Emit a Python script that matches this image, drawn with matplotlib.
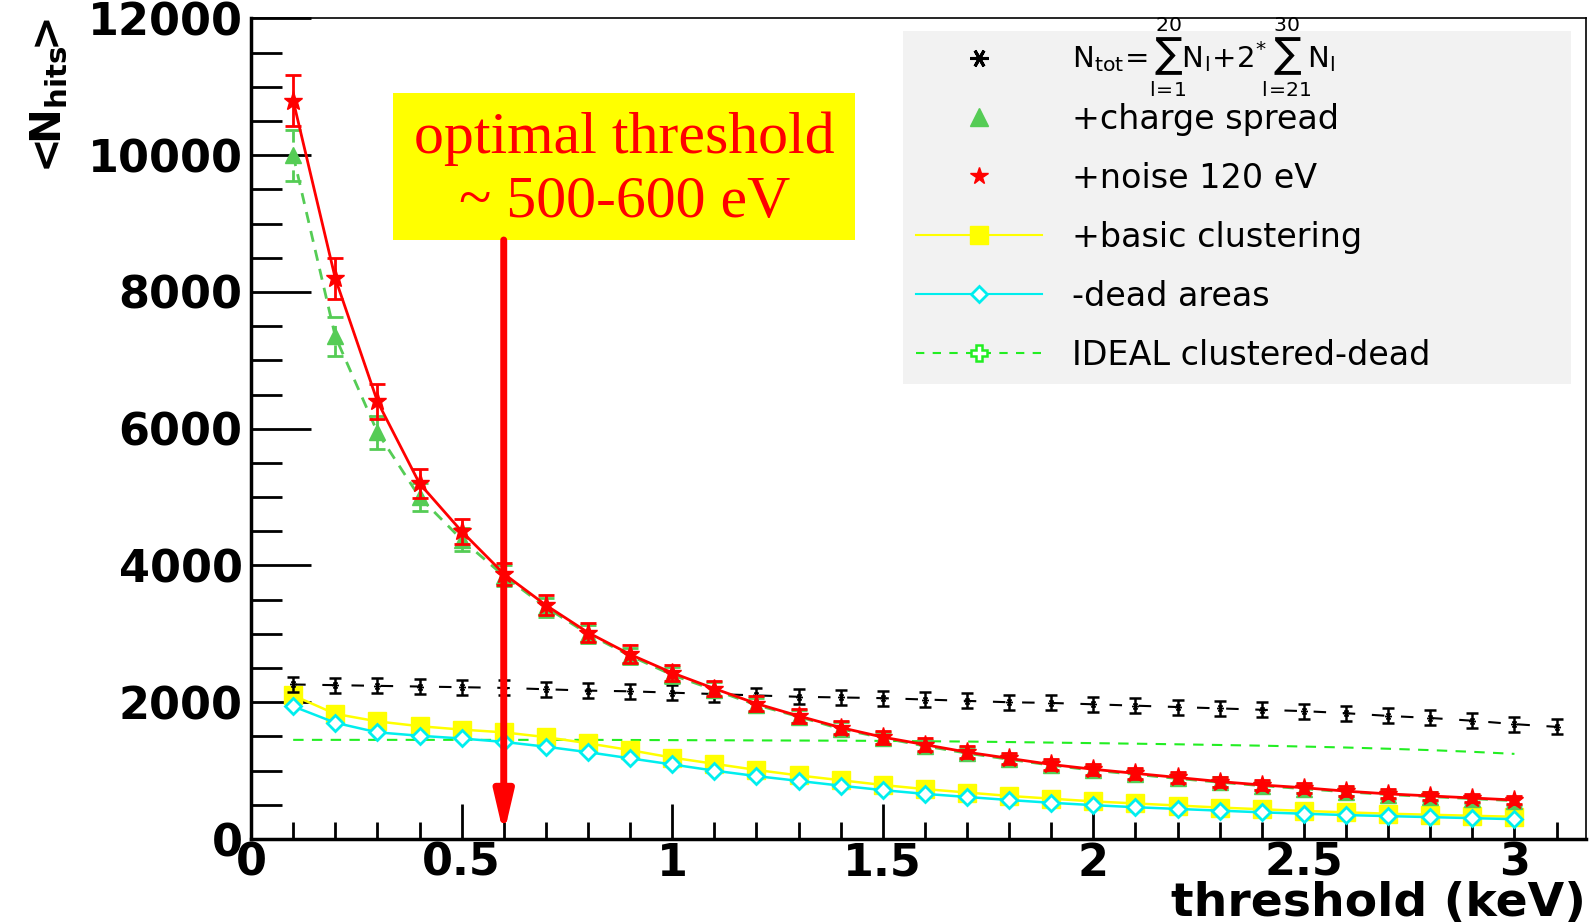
import matplotlib
matplotlib.use("Agg")
import matplotlib.pyplot as plt
from matplotlib.lines import Line2D
from matplotlib.patches import Rectangle

plt.rcParams['mathtext.fontset'] = 'dejavusans'

# threshold points (keV)
thr = [0.1, 0.2, 0.3, 0.4, 0.5, 0.6, 0.7, 0.8, 0.9, 1.0,
       1.1, 1.2, 1.3, 1.4, 1.5, 1.6, 1.7, 1.8, 1.9, 2.0,
       2.1, 2.2, 2.3, 2.4, 2.5, 2.6, 2.7, 2.8, 2.9, 3.0]
thr_tot = thr + [3.1]

# N_tot = sum N_l + 2*sum N_l
n_tot = [2260, 2250, 2240, 2230, 2220, 2210, 2190, 2170, 2160, 2140,
         2120, 2100, 2080, 2070, 2060, 2040, 2020, 2000, 1990, 1970,
         1950, 1930, 1910, 1890, 1870, 1840, 1800, 1770, 1730, 1680, 1640]
n_tot_err = [110] * 31

# +charge spread
charge = [10000, 7350, 5950, 5000, 4380, 3850, 3390, 3000, 2680, 2400,
          2180, 1960, 1790, 1610, 1480, 1360, 1255, 1165, 1080, 1005,
          945, 885, 830, 780, 735, 690, 650, 620, 590, 560]
charge_err = [370, 290, 240, 200, 170, 150, 140, 130, 120, 115,
              110, 105, 100, 95, 90, 88, 85, 82, 80, 78,
              76, 74, 72, 70, 68, 66, 64, 62, 60, 58]

# +noise 120 eV
noise = [10800, 8200, 6400, 5200, 4500, 3880, 3420, 3020, 2700, 2430,
         2200, 1980, 1800, 1630, 1490, 1380, 1270, 1180, 1090, 1020,
         960, 900, 840, 790, 750, 700, 660, 630, 600, 570]
noise_err = [380, 300, 260, 210, 180, 160, 150, 140, 130, 120,
             115, 110, 105, 100, 95, 92, 88, 85, 82, 80,
             78, 76, 74, 72, 70, 68, 66, 64, 62, 60]

# +basic clustering
clust = [2100, 1830, 1720, 1650, 1600, 1560, 1490, 1400, 1300, 1190,
         1100, 1010, 930, 860, 790, 730, 680, 630, 590, 550,
         520, 490, 460, 435, 410, 390, 370, 355, 340, 325]

# -dead areas
dead = [1940, 1700, 1560, 1510, 1470, 1420, 1350, 1270, 1180, 1090,
        1000, 920, 850, 780, 715, 660, 615, 570, 530, 495,
        465, 440, 415, 390, 370, 350, 335, 320, 305, 290]

# IDEAL clustered-dead
ideal = [1450, 1450, 1450, 1450, 1450, 1450, 1450, 1450, 1448, 1446,
         1444, 1442, 1440, 1438, 1435, 1430, 1425, 1418, 1410, 1402,
         1394, 1385, 1375, 1365, 1352, 1338, 1320, 1300, 1275, 1245]

fig = plt.figure(figsize=(15.94, 9.23), dpi=100)
ax = fig.add_axes([0.1575, 0.091, 0.8375, 0.889])

# ideal line
ax.plot(thr, ideal, color='#22ee22', ls=(0, (5, 4)), lw=1.5, zorder=2)

# yellow / cyan
ax.plot(thr, clust, color='#ffff00', marker='s', ms=13, lw=1.8, zorder=3)
ax.plot(thr, dead, color='#00eeee', marker='D', ms=8, mfc='white',
        mec='#00eeee', mew=2, lw=1.8, zorder=4)

# black dashed with error bars
ax.errorbar(thr_tot, n_tot, yerr=n_tot_err, color='black', ls=(0, (6, 8)),
            lw=1.5, marker=(6, 2, 90), ms=5, capsize=4, elinewidth=1.8,
            capthick=1.8, zorder=5)

# charge spread (green, dashed)
eb = ax.errorbar(thr, charge, yerr=charge_err, color='#55cc55', ls=(0, (4, 3)),
                 lw=2, marker='^', ms=12, capsize=6, elinewidth=2,
                 capthick=2, zorder=6)
eb[2][0].set_linestyle((0, (4, 3)))

# noise (red)
ax.errorbar(thr, noise, yerr=noise_err, color='red', ls='-', lw=2,
            marker='*', ms=14, capsize=6, elinewidth=2, capthick=2, zorder=7)

ax.set_xlim(0, 3.17)
ax.set_ylim(0, 12000)
ax.set_xticks([0, 0.5, 1, 1.5, 2, 2.5, 3])
ax.set_xticklabels(['0', '0.5', '1', '1.5', '2', '2.5', '3'])
ax.set_xticks([i / 10 for i in range(32)], minor=True)
ax.set_yticks([0, 2000, 4000, 6000, 8000, 10000, 12000])
ax.set_yticks(list(range(0, 12001, 500)), minor=True)
ax.tick_params(axis='both', which='both', direction='in', width=2)
ax.tick_params(axis='y', which='major', length=43, pad=6)
ax.tick_params(axis='y', which='minor', length=22)
ax.tick_params(axis='x', which='major', length=25, pad=2)
ax.tick_params(axis='x', which='minor', length=12)
for lab in ax.get_xticklabels() + ax.get_yticklabels():
    lab.set_fontsize(32)
    lab.set_fontweight('bold')
ax.spines['left'].set_linewidth(2.5)
ax.spines['bottom'].set_linewidth(2.5)
ax.spines['top'].set_linewidth(1.2)
ax.spines['right'].set_linewidth(1.2)

fig.text(0.995, 0.008, 'threshold (keV)', fontsize=34, fontweight='bold',
         ha='right', va='baseline')
ax.text(-0.151, 1.0, r'$\mathbf{<\!\!N_{hits}\!\!>}$',
        transform=ax.transAxes, rotation=90, ha='center', va='top',
        fontsize=30)

# annotation box and arrow
box_x0, box_x1 = 0.338, 1.435
box_y0, box_y1 = 8760, 10910
ax.add_patch(Rectangle((box_x0, box_y0), box_x1 - box_x0, box_y1 - box_y0,
                       facecolor='#ffff00', edgecolor='none', zorder=8))
ax.text((box_x0 + box_x1) / 2, (box_y0 + box_y1) / 2 - 60,
        'optimal threshold\n~ 500-600 eV', color='red', fontsize=43,
        family='Liberation Serif', ha='center', va='center',
        linespacing=1.25, zorder=9)
ax.annotate('', xy=(0.6, 60), xytext=(0.6, box_y0),
            arrowprops=dict(arrowstyle='-|>,head_length=1.2,head_width=0.28',
                            color='red', lw=5, mutation_scale=20,
                            shrinkA=0, shrinkB=0),
            zorder=10)

# legend
ax.add_patch(Rectangle((0.488, 0.555), 0.501, 0.43, transform=ax.transAxes,
                       facecolor='#f2f2f2', edgecolor='none', zorder=1))
handles = [
    Line2D([], [], color='black', ls='none', marker=(6, 2, 90), ms=13, mew=2.2),
    Line2D([], [], color='#55cc55', ls='none', marker='^', ms=13),
    Line2D([], [], color='red', ls='none', marker='*', ms=13),
    Line2D([], [], color='#ffff00', ls='-', lw=1.5, marker='s', ms=13),
    Line2D([], [], color='#00eeee', ls='-', lw=1.5, marker='D', ms=8,
           mfc='white', mew=2),
    Line2D([], [], color='#22ee22', ls=(0, (4, 4)), lw=1.5, marker='P', ms=12,
           mfc='white', mew=1.8),
]
labels = [
    ' ',
    '+charge spread',
    '+noise 120 eV',
    '+basic clustering',
    '-dead areas',
    'IDEAL clustered-dead',
]
leg = ax.legend(handles, labels, loc='upper left', bbox_to_anchor=(0.488, 0.985),
                frameon=False, fontsize=24, handlelength=3.8, handletextpad=0.9,
                borderpad=0.39, labelspacing=0.78, borderaxespad=0)

# formula label placed over the first (blank) legend row
fig.canvas.draw()
bb = leg.get_texts()[1].get_window_extent()
bb0 = leg.get_texts()[0].get_window_extent()
inv = ax.transAxes.inverted()
x0, _ = inv.transform((bb.x0, 0))
_, yc = inv.transform((0, (bb0.y0 + bb0.y1) / 2))
ax.text(x0, yc + 0.004,
        r'$\mathrm{N_{tot}\!=\!\sum_{l\!=\!1}^{20}\!N_l\!+\!2^{*}\!\sum_{l\!=\!21}^{30}\!N_l}$',
        transform=ax.transAxes, fontsize=21, ha='left', va='center')

fig.savefig('out.png', dpi=100)
